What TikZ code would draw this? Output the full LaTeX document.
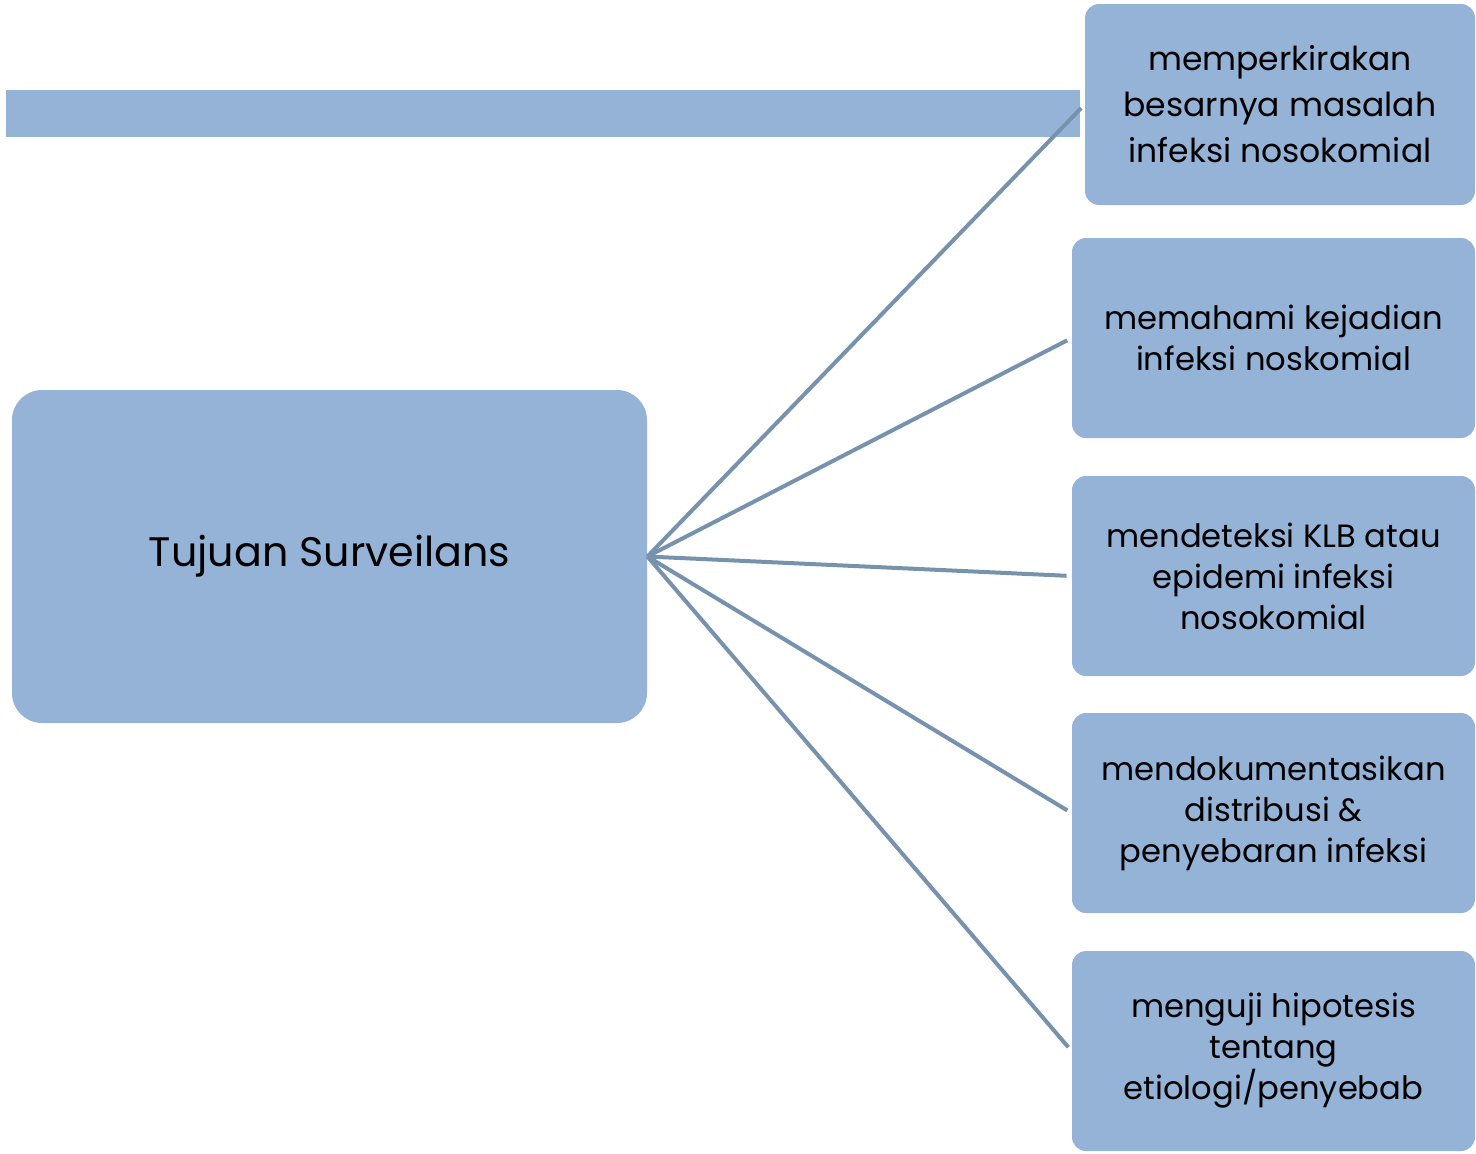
\documentclass[tikz,border=0pt]{standalone}
\usepackage{fontspec}
\setmainfont{Poppins}
\definecolor{boxfill}{RGB}{149,179,215}
\definecolor{linkcol}{RGB}{118,146,172}
\begin{document}
\begin{tikzpicture}[x=0.5pt,y=-0.5pt,
  goal/.style={draw=none,fill=boxfill,rounded corners=7pt,minimum width=201.5pt,minimum height=100pt,
     align=center,font=\fontsize{16.1}{20.5}\selectfont,inner sep=0pt},
  hub/.style={draw=none,fill=boxfill,rounded corners=15pt,minimum width=317.5pt,minimum height=166.5pt,
     font=\fontsize{20.6}{25}\selectfont,inner sep=0pt},
  band/.style={draw=none,fill=boxfill,minimum width=537pt,minimum height=23.5pt,inner sep=0pt},
  link/.style={draw=linkcol,line width=2pt,shorten >=2.5pt}]
\useasboundingbox (0,0) rectangle (1476,1153);
\node[band] (bar) at (543,113.5) {};
\node[hub] (main) at (329.5,556.5) {Tujuan Surveilans};
\node[goal,minimum width=195pt,minimum height=100.5pt,font=\fontsize{16.5}{23}\selectfont] (b1) at (1280,104.5) {memperkirakan\\besarnya masalah\\infeksi nosokomial};
\node[goal] (b2) at (1273.5,338) {memahami kejadian\\infeksi noskomial};
\node[goal] (b3) at (1273.5,576) {mendeteksi KLB atau\\epidemi infeksi\\nosokomial};
\node[goal] (b4) at (1273.5,813) {mendokumentasikan\\distribusi \&\\penyebaran infeksi};
\node[goal] (b5) at (1273.5,1051) {menguji hipotesis\\tentang\\etiologi/penyebab};
\foreach \t in {b1,b2,b3,b4,b5} \draw[link] (main.east) -- (\t.west);
\end{tikzpicture}
\end{document}
